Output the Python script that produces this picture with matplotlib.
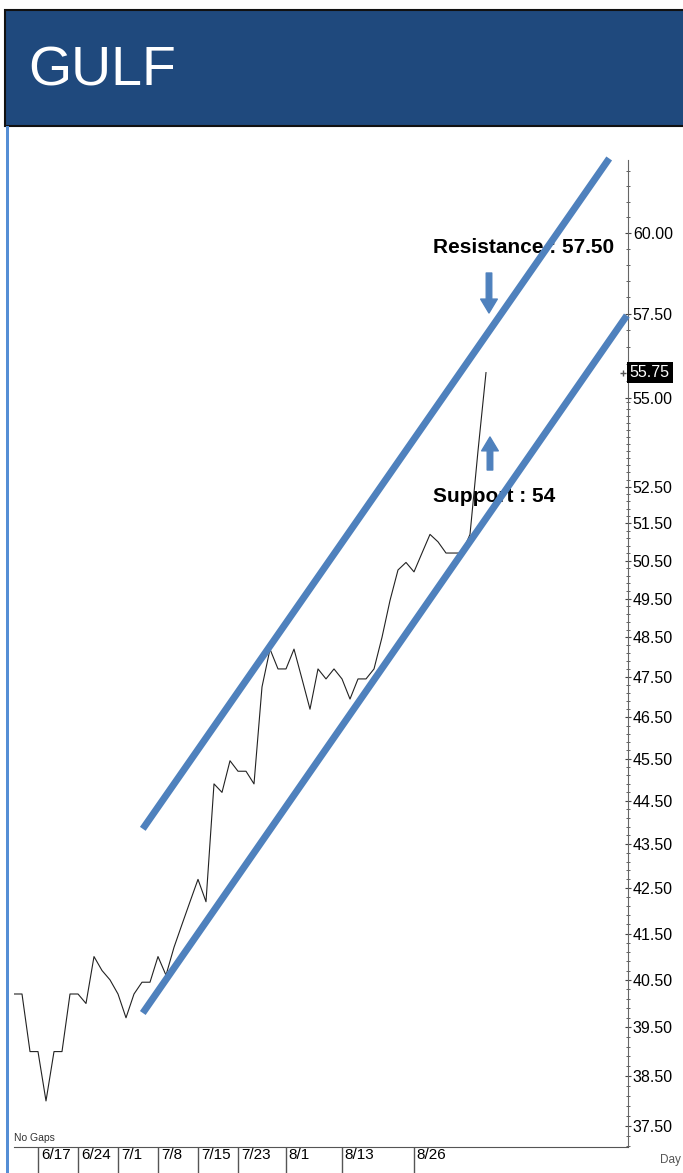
import matplotlib.pyplot as plt
import matplotlib.transforms as mtransforms
from matplotlib.patches import Rectangle
from matplotlib.ticker import NullFormatter, FixedLocator

# daily closes (a few sessions before 6/17 up to the last bar)
closes = [40.2, 40.2, 39.0, 39.0, 38.0, 39.0, 39.0, 40.2, 40.2, 40.0,
          41.0, 40.7, 40.5, 40.2, 39.7, 40.2, 40.45, 40.45, 41.0, 40.6,
          41.2, 41.7, 42.2, 42.7, 42.2, 44.9, 44.7, 45.45, 45.2, 45.2,
          44.9, 47.25, 48.2, 47.7, 47.7, 48.2, 47.45, 46.7, 47.7, 47.45,
          47.7, 47.45, 46.95, 47.45, 47.45, 47.7, 48.5, 49.45, 50.25, 50.45,
          50.2, 50.7, 51.2, 51.0, 50.7, 50.7, 50.7, 51.2, 53.5, 55.75]
days = list(range(len(closes)))

date_labels = ['6/17', '6/24', '7/1', '7/8', '7/15', '7/23', '8/1', '8/13', '8/26']
date_pos = [3, 8, 13, 18, 23, 28, 34, 41, 50]

price_ticks = [60.0, 57.5, 55.0, 52.5, 51.5, 50.5, 49.5, 48.5, 47.5, 46.5,
               45.5, 44.5, 43.5, 42.5, 41.5, 40.5, 39.5, 38.5, 37.5]

# channel lines (day index, price)
upper_x = [16.1, 74.4]
upper_y = [43.85, 62.4]
lower_x = [16.1, 76.6]
lower_y = [39.8, 57.45]

last_price = 55.75

sans = ['Liberation Sans', 'DejaVu Sans']
blue = '#4F81BD'

W, H = 683, 1173
fig = plt.figure(figsize=(W / 100, H / 100), dpi=100)

# header band
fig.patches.append(Rectangle((5 / W, 1 - 126 / H), 1.0, 116 / H,
                             transform=fig.transFigure, facecolor='#1F497D',
                             edgecolor='#111111', lw=1.5, zorder=0))
fig.text(28 / W, 1 - 86 / H, 'GULF', color='white', fontsize=40,
         family=sans, va='baseline', ha='left')
# left stripe
fig.patches.append(Rectangle((6 / W, 0), 3 / W, 1 - 126 / H,
                             transform=fig.transFigure, facecolor='#558ED5',
                             edgecolor='none', zorder=0))

ax = fig.add_axes([14 / W, (H - 1147) / H, 614 / W, 987 / H])
ax.set_yscale('log')
ax.plot(days, closes, color='#222222', lw=0.8, zorder=2)
ax.plot(upper_x, upper_y, color=blue, lw=5, solid_capstyle='butt',
        zorder=4, clip_on=False)
ax.plot(lower_x, lower_y, color=blue, lw=5, solid_capstyle='butt',
        zorder=4, clip_on=False)
ax.set_xlim(0, 76.75)
ax.set_ylim(37.09, 62.35)

# right price axis
ax.yaxis.tick_right()
ax.yaxis.set_major_locator(FixedLocator(price_ticks))
ax.set_yticklabels(['%.2f' % v for v in price_ticks], family=sans, fontsize=11.5)
minor = [v / 10 for v in range(371, 550, 2)] + [v / 10 for v in range(550, 625, 5)]
ax.yaxis.set_minor_locator(FixedLocator(minor))
ax.yaxis.set_minor_formatter(NullFormatter())
ax.tick_params(axis='y', which='major', direction='inout', length=5,
               width=0.8, color='#444444', pad=1)
ax.tick_params(axis='y', which='minor', direction='inout', length=3,
               width=0.6, color='#444444')

# bottom date axis
ax.xaxis.set_major_locator(FixedLocator(date_pos))
ax.xaxis.set_minor_locator(plt.NullLocator())
ax.set_xticklabels(date_labels, family=sans, fontsize=11, ha='left')
ax.tick_params(axis='x', direction='out', length=20, width=1,
               color='#555555', pad=-19)
shift = mtransforms.ScaledTranslation(2 / 72, 0, fig.dpi_scale_trans)
for lab in ax.get_xticklabels():
    lab.set_transform(lab.get_transform() + shift)

for s in ['top', 'left']:
    ax.spines[s].set_visible(False)
ax.spines['right'].set_color('#666666')
ax.spines['bottom'].set_color('#555555')

# last price marker box
ax.text(1.003, last_price, '%.2f' % last_price,
        transform=ax.get_yaxis_transform(), color='white', fontsize=11.5,
        family=sans, ha='left', va='center',
        bbox=dict(facecolor='black', edgecolor='none', pad=2))
ax.plot([0.992], [last_price], marker='+', ms=4, color='#555555',
        transform=ax.get_yaxis_transform(), clip_on=False)

# annotations
ax.text(0.6824, 0.9058, 'Resistance : 57.50', transform=ax.transAxes,
        fontsize=15, fontweight='bold', family=sans,
        ha='left', va='baseline', zorder=1)
ax.text(0.6824, 0.6535, 'Support : 54', transform=ax.transAxes,
        fontsize=15, fontweight='bold', family=sans,
        ha='left', va='baseline', zorder=1)
arrow = dict(arrowstyle='simple,head_width=1.2,head_length=1.0,tail_width=0.4',
             color=blue, shrinkA=0, shrinkB=0, mutation_scale=10)
ax.annotate('', xy=(0.7736, 0.845), xytext=(0.7736, 0.8855),
            xycoords='axes fraction', arrowprops=arrow)
ax.annotate('', xy=(0.7752, 0.7194), xytext=(0.7752, 0.6859),
            xycoords='axes fraction', arrowprops=arrow)

fig.text(14 / W, 1 - 1141 / H, 'No Gaps', fontsize=7.5, family=sans,
         color='#333333')
fig.text(660 / W, 1 - 1163 / H, 'Day', fontsize=8.5, family=sans,
         color='#555555')

fig.savefig('out.png', dpi=100)
